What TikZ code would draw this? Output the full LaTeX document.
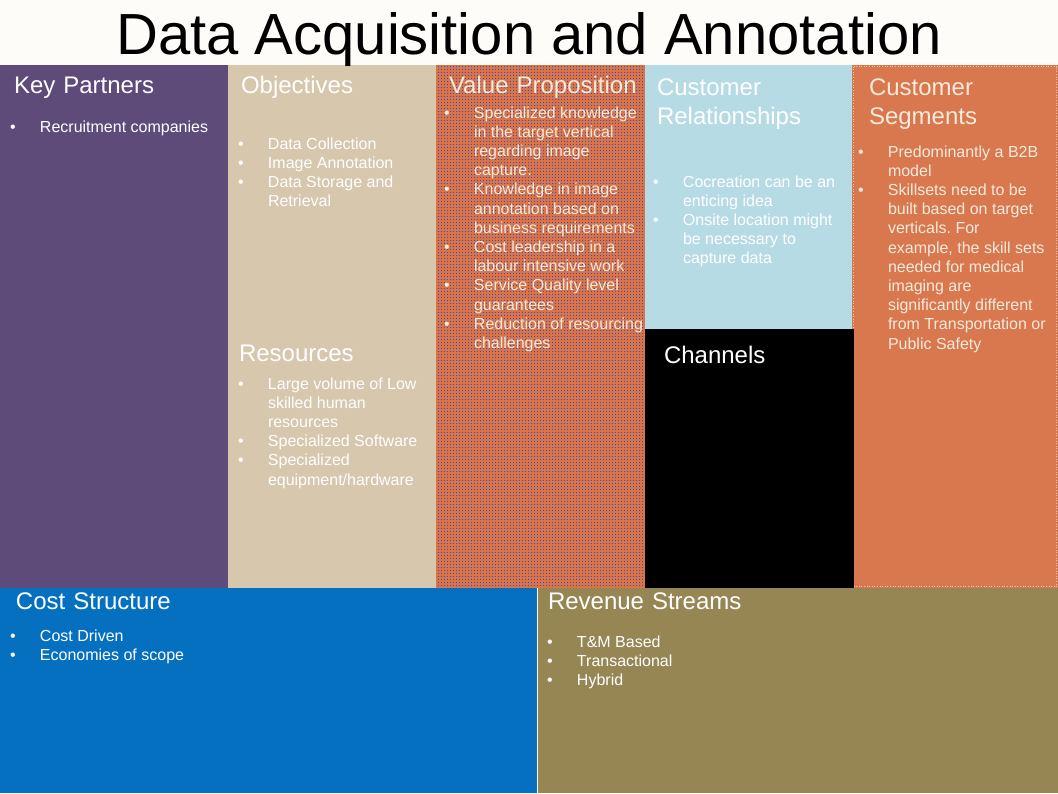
\documentclass[tikz,border=0pt]{standalone}
\usepackage{fontspec}
\setmainfont{Liberation Sans}
\usetikzlibrary{patterns}
\frenchspacing

% panel colours
\definecolor{titlebg}{HTML}{FDFCF9}
\definecolor{kpcol}{HTML}{5F4B7A}
\definecolor{objcol}{HTML}{D6C7AD}
\definecolor{vpcol}{HTML}{D8734A}
\definecolor{vpdot}{HTML}{3F4FA8}
\definecolor{crcol}{HTML}{B6DBE4}
\definecolor{cscol}{HTML}{D9774E}
\definecolor{costcol}{HTML}{0570C0}
\definecolor{revcol}{HTML}{958654}
\definecolor{cream}{HTML}{F3EBDC}

% fine square-dot texture on a 3pt grid
\pgfdeclarepatternformonly{pixdots}{\pgfqpoint{0pt}{0pt}}{\pgfqpoint{3pt}{3pt}}{\pgfqpoint{3pt}{3pt}}{%
  \pgfpathrectangle{\pgfqpoint{0pt}{0pt}}{\pgfqpoint{1pt}{1pt}}\pgfusepath{fill}}

% bullet item with hanging indent; lines inside an item are broken with \newline
\newlength\bulgap
\setlength\bulgap{30pt}
\newcommand\bpt[1]{\par\noindent\hangindent=\bulgap\hangafter=1\makebox[\bulgap][l]{•}#1\par}
% a block of bullet items whose baseline is that of its first line
\newcommand\blist[1]{\begin{minipage}[t]{380pt}\fontsize{16}{19.2}\selectfont#1\end{minipage}}

\tikzset{
  head/.style={anchor=base west, inner sep=0pt, outer sep=0pt, text width=220pt, align=left,
    font=\fontsize{24}{29}\selectfont, text=white},
  body/.style={anchor=base west, inner sep=0pt, outer sep=0pt, text=white},
}

\begin{document}
\begin{tikzpicture}[x=1pt,y=-1pt]
\useasboundingbox (0,0) rectangle (1058,793);

% background panels
\fill[titlebg] (0,0) rectangle (1058,65);
\fill[kpcol] (0,65) rectangle (228,588);
\fill[objcol] (228,65) rectangle (436,588);
\fill[vpcol] (436,65) rectangle (645,588);
\fill[pattern=pixdots, pattern color=vpdot] (436,65) rectangle (645,588);
\fill[crcol] (645,65) rectangle (852,329);
\fill[cscol] (852,65) rectangle (1058,588);
\draw[cream, dotted, line width=0.6pt, opacity=0.7] (853.5,66.5) rectangle (1056.5,586.5);
\fill[black] (645,329) rectangle (854,589);
\fill[costcol] (0,588) rectangle (537,793);
\fill[revcol] (537,588) rectangle (1058,793);
\draw[white, line width=1pt] (537,588) -- (537,793);

% title
\node[anchor=base, inner sep=0pt, font=\fontsize{58}{60}\selectfont, text=black] (title) at (529,54)
  {Data Acquisition and Annotation};

% key partners
\node[head] (kph) at (14,93) {Key Partners};
\node[body] (kpb) at (10,132) {\blist{\bpt{Recruitment companies}}};

% objectives
\node[head] (objh) at (241,93) {Objectives};
\node[body] (objb) at (238,149) {\blist{\bpt{Data Collection}\bpt{Image Annotation}\bpt{Data Storage and\newline Retrieval}}};

% resources
\node[head] (resh) at (239,361) {Resources};
\node[body] (resb) at (238,389) {\blist{\bpt{Large volume of Low\newline skilled human\newline resources}\bpt{Specialized Software}\bpt{Specialized\newline equipment/hardware}}};

% value proposition
\node[head, text=cream] (vph) at (449,93) {Value Proposition};
\node[body, text=cream] (vpb) at (444,118) {\blist{\bpt{Specialized knowledge\newline in the target vertical\newline regarding image\newline capture.}\bpt{Knowledge in image\newline annotation based on\newline business requirements}\bpt{Cost leadership in a\newline labour intensive work}\bpt{Service Quality level\newline guarantees}\bpt{Reduction of resourcing\newline challenges}}};

% customer relationships
\node[head] (crh) at (657,95) {Customer\\Relationships};
\node[body] (crb) at (653,187) {\blist{\bpt{Cocreation can be an\newline enticing idea}\bpt{Onsite location might\newline be necessary to\newline capture data}}};

% customer segments
\node[head, text=cream] (csh) at (869,95) {Customer\\Segments};
\node[body, text=cream] (csb) at (858,157) {\blist{\bpt{Predominantly a B2B\newline model}\bpt{Skillsets need to be\newline built based on target\newline verticals. For\newline example, the skill sets\newline needed for medical\newline imaging are\newline significantly different\newline from Transportation or\newline Public Safety}}};

% channels
\node[head] (chh) at (664,363) {Channels};

% cost structure
\node[head] (costh) at (16,609) {Cost Structure};
\node[body] (costb) at (10,641) {\blist{\bpt{Cost Driven}\bpt{Economies of scope}}};

% revenue streams
\node[head] (revh) at (548,609) {Revenue Streams};
\node[body] (revb) at (547,647) {\blist{\bpt{T\&M Based}\bpt{Transactional}\bpt{Hybrid}}};
\end{tikzpicture}
\end{document}
